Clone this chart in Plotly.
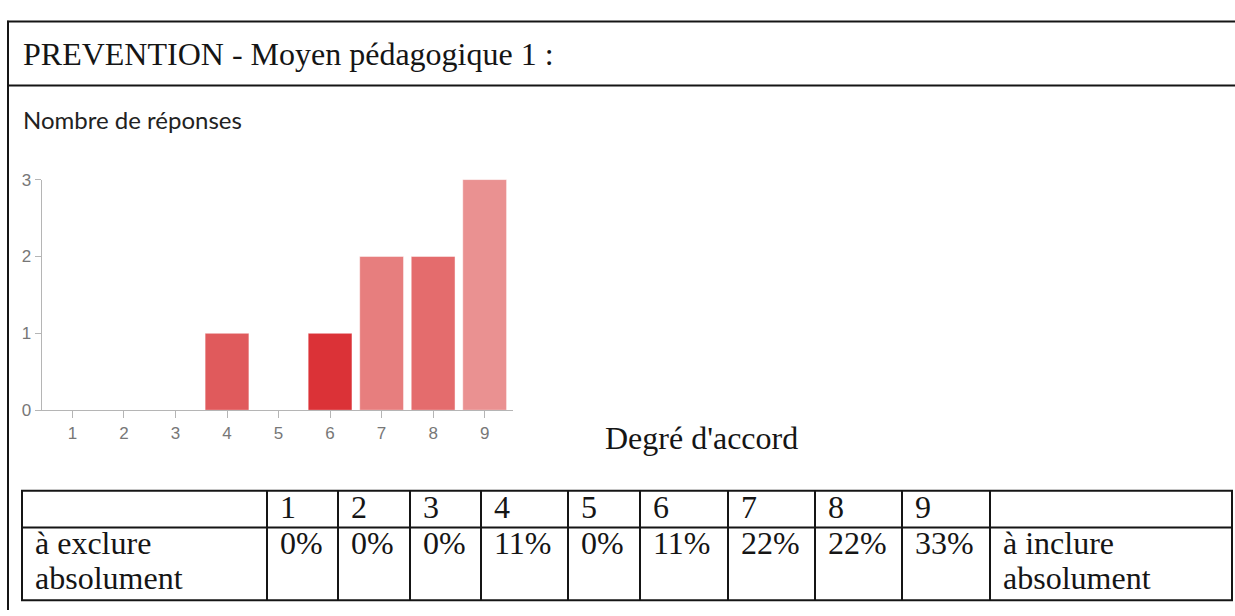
import plotly.graph_objects as go

W, H = 1235, 616

# ---------------- data ----------------
title_text = "PREVENTION - Moyen pédagogique 1 :"
chart_title = "Nombre de réponses"
x_title = "Degré d'accord"

scores = [1, 2, 3, 4, 5, 6, 7, 8, 9]
counts = [0, 0, 0, 1, 0, 1, 2, 2, 3]
bar_colors = ["#e05a5c", "#e05a5c", "#e05a5c", "#e05a5c", "#e05a5c",
              "#db3237", "#e77e7e", "#e46c6d", "#ea9191"]
y_ticks = [0, 1, 2, 3]

left_label = ["à exclure", "absolument"]
right_label = ["à inclure", "absolument"]
total = sum(counts)
percent_labels = [f"{round(100 * c / total)}%" for c in counts]
header_labels = [""] + [str(s) for s in scores] + [""]

# ---------------- layout constants (pixels) ----------------
col_widths = [245, 71, 72, 71, 87, 72, 88, 87, 87, 88, 242]
table_left, table_top = 22, 497
row_heights = [38, 75]
serif = "Liberation Serif"
ink = "#151515"


def px(x):
    return x / W


def py(y):
    return 1 - y / H


fig = go.Figure()
fig.add_trace(go.Bar(
    x=scores, y=counts,
    marker=dict(color=bar_colors, line=dict(color="rgba(255,255,255,0.45)", width=1)),
    hoverinfo="skip",
))

shapes = []
annotations = []

# outer document box
line_style = dict(color=ink, width=2)
shapes.append(dict(type="line", xref="paper", yref="paper", x0=px(8), x1=px(8),
                   y0=py(12), y1=py(620), line=line_style))
shapes.append(dict(type="line", xref="paper", yref="paper", x0=px(7), x1=px(1240),
                   y0=py(13), y1=py(13), line=line_style))
shapes.append(dict(type="line", xref="paper", yref="paper", x0=px(7), x1=px(1240),
                   y0=py(79), y1=py(79), line=line_style))

# texts outside the chart
annotations.append(dict(text=title_text, x=px(21), y=py(46), xref="paper", yref="paper",
                        xanchor="left", yanchor="middle", showarrow=False,
                        font=dict(family=serif, size=32, color=ink)))
annotations.append(dict(text=chart_title, x=px(21), y=py(114), xref="paper", yref="paper",
                        xanchor="left", yanchor="middle", showarrow=False,
                        font=dict(family="Lato", size=24, color="#222222")))
annotations.append(dict(text=x_title, x=px(603), y=py(443), xref="paper", yref="paper",
                        xanchor="left", yanchor="middle", showarrow=False,
                        font=dict(family=serif, size=32, color=ink)))

# table
edges = [table_left]
for w in col_widths:
    edges.append(edges[-1] + w)
row_edges = [table_top]
for h in row_heights:
    row_edges.append(row_edges[-1] + h)

for ry in row_edges:
    shapes.append(dict(type="line", xref="paper", yref="paper", x0=px(edges[0] - 1), x1=px(edges[-1] + 1),
                       y0=py(ry), y1=py(ry), line=line_style))
for ex in edges:
    shapes.append(dict(type="line", xref="paper", yref="paper", x0=px(ex), x1=px(ex),
                       y0=py(row_edges[0]), y1=py(row_edges[-1]), line=line_style))

cell_font = dict(family=serif, size=32, color=ink)
pad = 11
for i, lab in enumerate(header_labels):
    if lab:
        annotations.append(dict(text=lab, x=px(edges[i] + pad), y=py(row_edges[0] + 17),
                                xref="paper", yref="paper", xanchor="left", yanchor="middle",
                                showarrow=False, font=cell_font))
body = [left_label] + [[p] for p in percent_labels] + [right_label]
line_gap = 36
for i, lines in enumerate(body):
    for k, t in enumerate(lines):
        annotations.append(dict(text=t, x=px(edges[i] + pad), y=py(row_edges[1] + 16 + k * line_gap),
                                xref="paper", yref="paper", xanchor="left", yanchor="middle",
                                showarrow=False, font=cell_font))

axis_common = dict(
    showline=True, linecolor="#b5b5b5", linewidth=1,
    ticks="outside", tickcolor="#b5b5b5", tickwidth=1,
    showgrid=False, zeroline=False, fixedrange=True,
    tickfont=dict(family="Liberation Sans", size=17, color="#777777"),
)

fig.update_layout(
    width=W, height=H,
    margin=dict(l=0, r=0, t=0, b=0),
    paper_bgcolor="white", plot_bgcolor="white",
    showlegend=False,
    bargap=0.15,
    xaxis=dict(domain=[px(41.5), px(513)], range=[0.4, 9.55], tickvals=scores, ticklen=7, **axis_common),
    yaxis=dict(domain=[py(414), py(176)], range=[0, 3], tickvals=y_ticks, ticklen=6, **axis_common),
    shapes=shapes,
    annotations=annotations,
)

fig.write_html("out.html", config={"displayModeBar": False},
               post_script="document.body.style.margin='0';document.body.style.overflow='hidden';")
